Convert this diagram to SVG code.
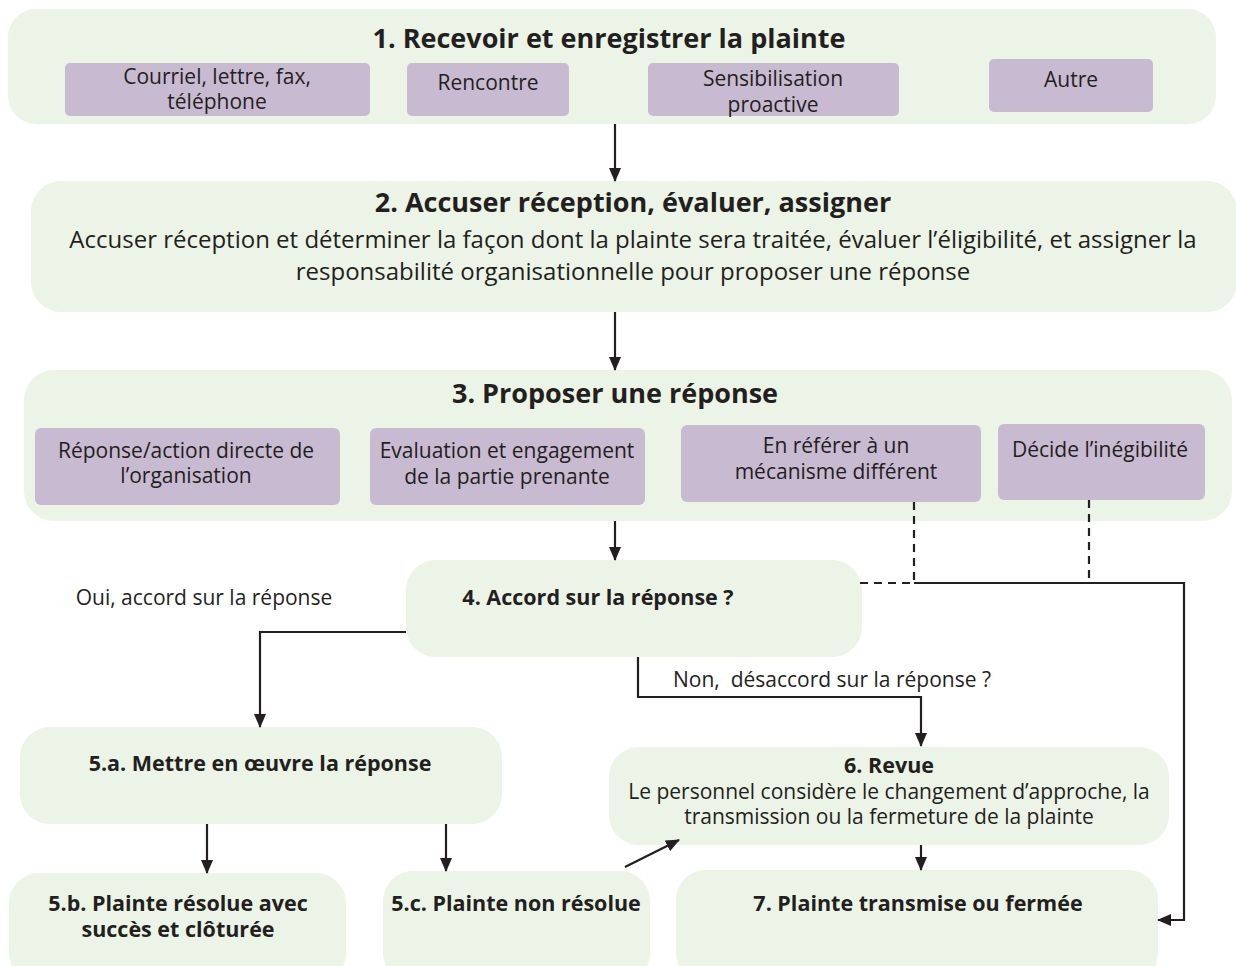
<svg xmlns="http://www.w3.org/2000/svg" width="1236" height="966" viewBox="0 0 1236 966">
<style>
.g{fill:#ebf4e6}
.p{fill:#c8bad1}
text{font-family:"Open Sans","Noto Sans","Liberation Sans",sans-serif;fill:#231f20;text-anchor:middle}
.t{font-size:27px;font-weight:700}
.s{font-size:21.5px;font-weight:700}
.r{font-size:21px}
.b{font-size:24px}
.ln{fill:none;stroke:#231f20;stroke-width:2.2}
.d{stroke-dasharray:8 6}
</style>
<defs>
<marker id="ah" markerWidth="14" markerHeight="12" refX="13" refY="6" orient="auto" markerUnits="userSpaceOnUse">
<path d="M0,0 L14,6 L0,12 Z" fill="#231f20"/>
</marker>
</defs>
<rect width="1236" height="966" fill="#fff"/>

<g id="n1">
<rect class="g" x="8" y="9" width="1208" height="115" rx="28"/>
<text class="t" x="609" y="48">1. Recevoir et enregistrer la plainte</text>
<rect class="p" x="65" y="63" width="305" height="53" rx="5"/>
<text class="r" x="217" y="84">Courriel, lettre, fax,</text>
<text class="r" x="217" y="109">téléphone</text>
<rect class="p" x="407" y="63" width="162" height="53" rx="5"/>
<text class="r" x="488" y="90">Rencontre</text>
<rect class="p" x="648" y="63" width="251" height="53" rx="5"/>
<text class="r" x="773" y="86">Sensibilisation</text>
<text class="r" x="773" y="112">proactive</text>
<rect class="p" x="989" y="59" width="164" height="53" rx="5"/>
<text class="r" x="1071" y="87">Autre</text>
</g>

<g id="n2">
<rect class="g" x="31" y="181" width="1206" height="131" rx="30"/>
<text class="t" x="633" y="212">2. Accuser réception, évaluer, assigner</text>
<text class="b" x="633" y="248">Accuser réception et déterminer la façon dont la plainte sera traitée, évaluer l’éligibilité, et assigner la</text>
<text class="b" x="633" y="280">responsabilité organisationnelle pour proposer une réponse</text>
</g>

<g id="n3">
<rect class="g" x="24" y="370" width="1208" height="151" rx="30"/>
<text class="t" x="615" y="403">3. Proposer une réponse</text>
<rect class="p" x="35" y="428" width="305" height="77" rx="6"/>
<text class="r" x="186" y="458">Réponse/action directe de</text>
<text class="r" x="186" y="483">l’organisation</text>
<rect class="p" x="370" y="428" width="275" height="77" rx="6"/>
<text class="r" x="507" y="458">Evaluation et engagement</text>
<text class="r" x="507" y="484">de la partie prenante</text>
<rect class="p" x="681" y="425" width="300" height="77" rx="6"/>
<text class="r" x="836" y="453">En référer à un</text>
<text class="r" x="836" y="479">mécanisme différent</text>
<rect class="p" x="998" y="424" width="207" height="76" rx="6"/>
<text class="r" x="1100" y="457">Décide l’inégibilité</text>
</g>

<g id="n4">
<rect class="g" x="406" y="560" width="456" height="97" rx="30"/>
<text class="s" x="598" y="605">4. Accord sur la réponse ?</text>
</g>

<g id="n5a">
<rect class="g" x="20" y="727" width="482" height="97" rx="30"/>
<text class="s" x="260" y="771">5.a. Mettre en œuvre la réponse</text>
</g>

<g id="n5b">
<rect class="g" x="9" y="873" width="337" height="110" rx="30"/>
<text class="s" x="178" y="911">5.b. Plainte résolue avec</text>
<text class="s" x="178" y="937">succès et clôturée</text>
</g>

<g id="n5c">
<rect class="g" x="383" y="871" width="267" height="112" rx="30"/>
<text class="s" x="516" y="911">5.c. Plainte non résolue</text>
</g>

<g id="n6">
<rect class="g" x="609" y="747" width="560" height="98" rx="30"/>
<text class="s" x="889" y="773">6. Revue</text>
<text class="r" x="889" y="799">Le personnel considère le changement d’approche, la</text>
<text class="r" x="889" y="824">transmission ou la fermeture de la plainte</text>
</g>

<g id="n7">
<rect class="g" x="676" y="870" width="482" height="113" rx="30"/>
<text class="s" x="918" y="911">7. Plainte transmise ou fermée</text>
</g>

<g id="labels">
<text class="r" x="204" y="605">Oui, accord sur la réponse</text>
<text class="r" x="832" y="687">Non,&#160; désaccord sur la réponse ?</text>
</g>

<g id="connectors">
<path class="ln" d="M615,124 V181" marker-end="url(#ah)"/>
<path class="ln" d="M615,312 V370" marker-end="url(#ah)"/>
<path class="ln" d="M615,521 V560" marker-end="url(#ah)"/>
<path class="ln" d="M406,632 H260 V727" marker-end="url(#ah)"/>
<path class="ln" d="M638,657 V697 H921 V746" marker-end="url(#ah)"/>
<path class="ln" d="M207,824 V873" marker-end="url(#ah)"/>
<path class="ln" d="M446,824 V871" marker-end="url(#ah)"/>
<path class="ln" d="M625,867 L679,840" marker-end="url(#ah)"/>
<path class="ln" d="M921,845 V870" marker-end="url(#ah)"/>
<path class="ln d" d="M914,502 V583"/>
<path class="ln d" d="M1089,500 V583"/>
<path class="ln d" d="M860,583 H914"/>
<path class="ln" d="M914,583 H1184 V920 H1158" marker-end="url(#ah)"/>
</g>
</svg>
